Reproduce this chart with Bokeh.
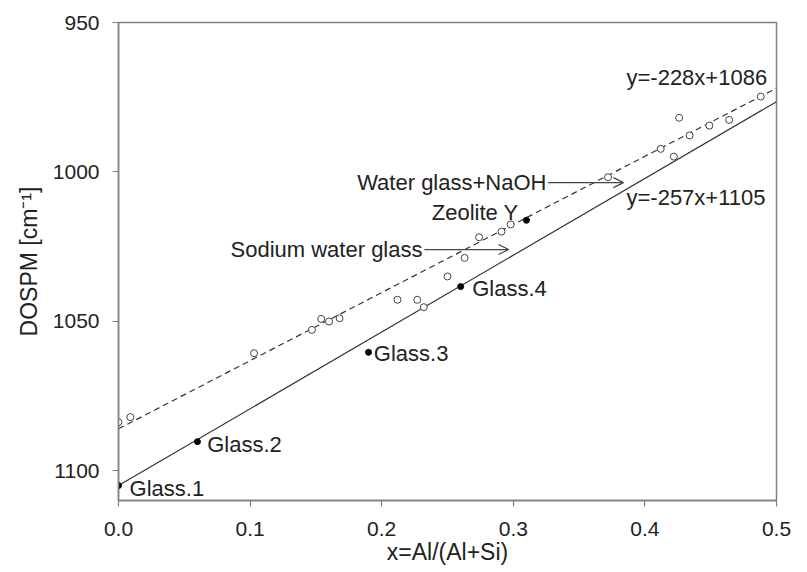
from bokeh.plotting import figure
from bokeh.models import Range1d, FixedTicker, NumeralTickFormatter, Arrow, OpenHead
from bokeh.embed import file_html
from bokeh.resources import INLINE
from bokeh.core.properties import value

FONT = "Liberation Sans"

# Sodium water glass (open circles)
sodium_x = [0.000, 0.009, 0.103, 0.147, 0.154, 0.160, 0.168, 0.212, 0.227, 0.232, 0.250, 0.263, 0.274, 0.291, 0.298]
sodium_y = [1083.8, 1082.1, 1060.7, 1052.9, 1049.2, 1050.1, 1049.0, 1042.8, 1042.8, 1045.3, 1035.0, 1028.8, 1021.9, 1020.0, 1017.6]

# Water glass + NaOH (open circles)
naoh_x = [0.372, 0.412, 0.422, 0.426, 0.434, 0.449, 0.464, 0.488]
naoh_y = [1001.8, 992.3, 994.9, 981.9, 987.8, 984.5, 982.6, 974.8]

# Glasses and zeolite (filled dots)
glass_names = ["Glass.1", "Glass.2", "Glass.3", "Glass.4"]
glass_x = [0.00, 0.06, 0.19, 0.26]
glass_y = [1105.0, 1090.3, 1060.4, 1038.4]
zeolite_x = [0.31]
zeolite_y = [1016.2]

# Linear fits  DOSPM = slope * x + intercept
fit_slope = [-228, -257]
fit_intercept = [1086, 1105]
fit_dash = ["6 4", "solid"]

x_ticks = [0.0, 0.1, 0.2, 0.3, 0.4, 0.5]
y_ticks = [950, 1000, 1050, 1100]

p = figure(width=807, height=572, output_backend="svg", toolbar_location=None,
           x_range=Range1d(0, 0.5), y_range=Range1d(1110, 950),
           min_border_left=118, min_border_right=31, min_border_top=22, min_border_bottom=72)
p.background_fill_color = "white"
p.border_fill_color = "white"
p.xgrid.visible = False
p.ygrid.visible = False
p.outline_line_color = "#808080"
p.outline_line_width = 1.5

for ax in (p.xaxis[0], p.yaxis[0]):
    ax.axis_line_color = "#808080"
    ax.axis_line_width = 1.5
    ax.major_tick_line_color = "#808080"
    ax.major_tick_line_width = 1.2
    ax.major_tick_out = 6
    ax.major_tick_in = 0
    ax.minor_tick_line_color = None
    ax.major_label_text_font = FONT
    ax.major_label_text_font_size = "21px"
    ax.major_label_text_color = "#222222"
    ax.axis_label_text_font = FONT
    ax.axis_label_text_font_style = "normal"
    ax.axis_label_text_color = "#222222"
    ax.axis_label_text_font_size = "23px"

p.xaxis.ticker = FixedTicker(ticks=x_ticks)
p.xaxis.formatter = NumeralTickFormatter(format="0.0")
p.xaxis.major_label_standoff = 15
p.xaxis.axis_label = "x=Al/(Al+Si)"
p.xaxis.axis_label_standoff = 0

p.yaxis.ticker = FixedTicker(ticks=y_ticks)
p.yaxis.major_label_standoff = 13
p.yaxis.axis_label = "DOSPM [cm\u207b\u00b9]"
p.yaxis.axis_label_standoff = 8

# Fit lines across the full x range
x0, x1 = p.x_range.start, p.x_range.end
for m, b, dash in zip(fit_slope, fit_intercept, fit_dash):
    p.line([x0, x1], [m * x0 + b, m * x1 + b], line_color="#333333", line_width=1.2, line_dash=dash)

# Open circles
p.scatter(sodium_x, sodium_y, marker="circle", size=7, fill_color="white",
          line_color="#444444", line_width=1)
p.scatter(naoh_x, naoh_y, marker="circle", size=7, fill_color="white",
          line_color="#444444", line_width=1)

# Filled dots
p.scatter(glass_x, glass_y, marker="circle", size=6, fill_color="black", line_color="black")
p.scatter(zeolite_x, zeolite_y, marker="circle", size=6, fill_color="black", line_color="black")

txt = dict(text_font=value(FONT), text_font_size="22px", text_color="#222222",
           text_baseline="middle")

# Glass labels
glass_lx = [0.0084, 0.0674, 0.194, 0.2688]
glass_ly = [1106.0, 1091.1, 1060.7, 1039.2]
p.text(glass_lx, glass_ly, text=glass_names, text_align="left", **txt)

p.text([0.304], [1013.5], text=["Zeolite Y"], text_align="right", **txt)
p.text([0.231], [1026.0], text=["Sodium water glass"], text_align="right", **txt)
p.text([0.3252], [1003.6], text=["Water glass+NaOH"], text_align="right", **txt)

fit_labels = ["y=%dx+%d" % (m, b) for m, b in zip(fit_slope, fit_intercept)]
p.text([0.386, 0.386], [968.3, 1008.5], text=fit_labels, text_align="left", **txt)

# Arrows pointing at the two groups
p.add_layout(Arrow(end=OpenHead(size=10, line_color="#444444", line_width=1.2),
                   x_start=0.2325, y_start=1026.0, x_end=0.2964, y_end=1026.0,
                   line_color="#444444", line_width=1.2))
p.add_layout(Arrow(end=OpenHead(size=10, line_color="#444444", line_width=1.2),
                   x_start=0.3265, y_start=1003.6, x_end=0.3837, y_end=1003.6,
                   line_color="#444444", line_width=1.2))

open("out.html", "w").write(file_html(p, INLINE))
